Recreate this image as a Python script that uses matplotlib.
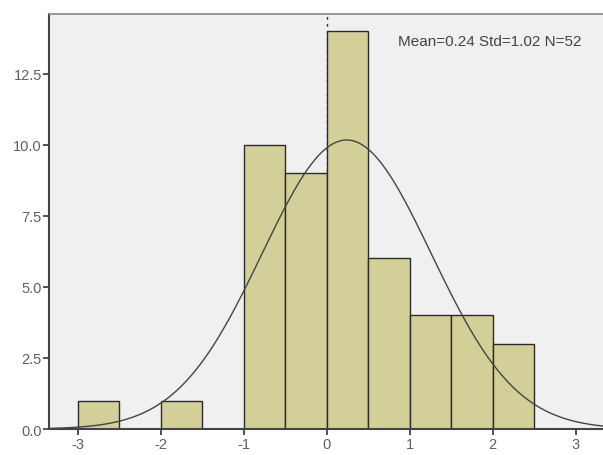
import numpy as np
import matplotlib
matplotlib.use("Agg")
import matplotlib.pyplot as plt

plt.rcParams['font.family'] = ['Liberation Sans', 'DejaVu Sans']

# histogram bins (width 0.5) and counts
bin_edges = [-3.0, -2.5, -2.0, -1.5, -1.0, -0.5, 0.0, 0.5, 1.0, 1.5, 2.0, 2.5]
counts = [1, 0, 1, 0, 10, 9, 14, 6, 4, 4, 3]
mean, std, n = 0.24, 1.02, 52

x_ticks = [-3, -2, -1, 0, 1, 2, 3]
y_ticks = [0.0, 2.5, 5.0, 7.5, 10.0, 12.5]

fig = plt.figure(figsize=(6.03, 4.56), dpi=100)
ax = fig.add_axes([0.081, 0.057, 0.919, 0.910])
ax.set_facecolor('#f0f0f0')

edges = np.array(bin_edges)
widths = np.diff(edges)
for left, w, c in zip(edges[:-1], widths, counts):
    if c > 0:
        ax.bar(left, c, width=w, align='edge', color='#d3cf98',
               edgecolor='#2b2b2b', linewidth=1.0, zorder=2)

# fitted normal curve scaled to counts
xs = np.linspace(-3.35, 3.35, 400)
bw = widths[0]
ys = n * bw / (std * np.sqrt(2 * np.pi)) * np.exp(-0.5 * ((xs - mean) / std) ** 2)
ax.plot(xs, ys, color='#444444', linewidth=1.0, zorder=3)

# reference line at zero
ax.axvline(0, color='#333333', linestyle=(0, (2, 3)), linewidth=1.0, zorder=1)

ax.text(0.962, 0.935, f"Mean={mean:.2f} Std={std:.2f} N={n}",
        transform=ax.transAxes, ha='right', va='center',
        fontsize=11, color='#444444')

ax.set_xlim(-3.35, 3.33)
ax.set_ylim(0, 14.6)
ax.set_xticks(x_ticks)
ax.set_xticklabels([str(t) for t in x_ticks])
ax.set_yticks(y_ticks)
ax.set_yticklabels([f"{t:.1f}" for t in y_ticks])
ax.tick_params(direction='out', length=4, width=1.2, color='#333333',
               labelcolor='#606060', labelsize=10.5, pad=1)
ax.tick_params(axis='x', pad=2)

ax.spines['right'].set_visible(False)
ax.spines['top'].set_color('#888888')
ax.spines['top'].set_linewidth(1.2)
ax.spines['left'].set_color('#444444')
ax.spines['left'].set_linewidth(1.5)
ax.spines['bottom'].set_color('#444444')
ax.spines['bottom'].set_linewidth(1.5)

fig.savefig('out.png', dpi=100, facecolor='white')
